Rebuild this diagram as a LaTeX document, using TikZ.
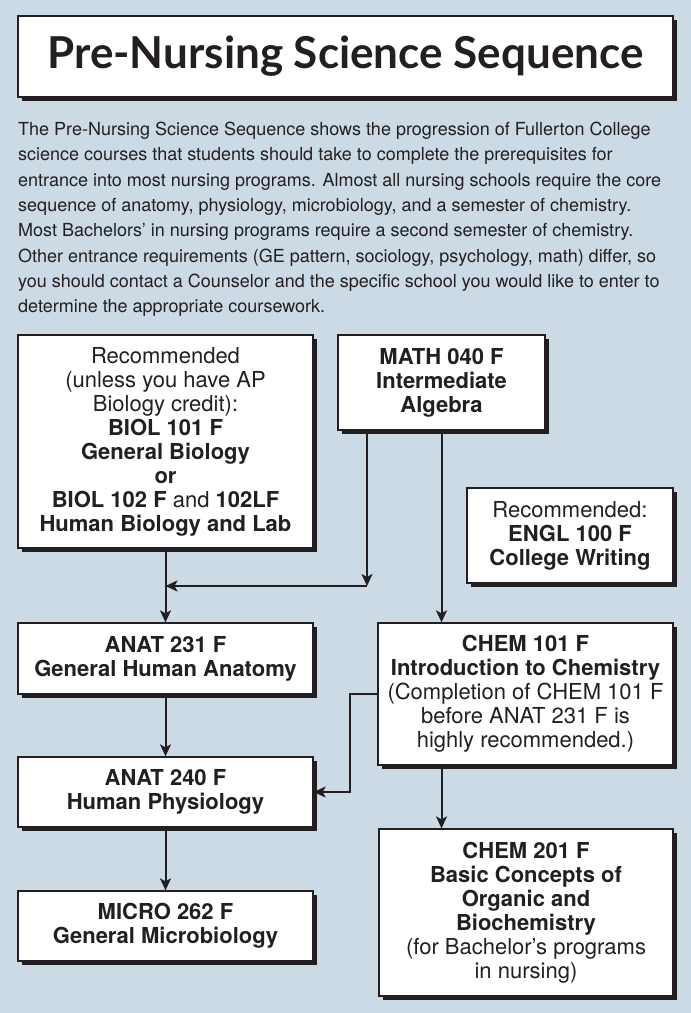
\documentclass[tikz,border=0pt]{standalone}
\usepackage{fontspec}
\setmainfont{TeX Gyre Heros}
\newfontfamily\titlefont{Lato}
\usetikzlibrary{shadows,arrows.meta}

\definecolor{panelblue}{RGB}{204,218,229}
\definecolor{ink}{RGB}{35,31,32}

\begin{document}
\begin{tikzpicture}[x=1pt,y=-1pt,
  course/.style={
      draw=ink,
      line width=1.3pt,
      fill=white,
      text=ink,
      align=center,
      inner sep=0pt,
      drop shadow={shadow xshift=3.5pt,shadow yshift=-3.5pt,fill=ink,opacity=1},
      font=\fontsize{22}{24}\selectfont},
  bold course/.style={course,font=\fontsize{22}{24}\selectfont\bfseries},
  link/.style={draw=ink,line width=2pt,-{Stealth[length=12pt,width=11pt,inset=3pt]}}
]
% panel behind everything
\fill[panelblue] (0,0) rectangle (691,1013);

% heading
\node[course,
      minimum width=655pt,
      minimum height=81pt,
      font=\titlefont\bfseries\fontsize{44}{50}\selectfont
] (title) at (345.5,56.5) {Pre-Nursing Science Sequence};

\node[anchor=north west,inner sep=0pt,align=left,text=ink,
      font=\fontsize{18}{25.3}\selectfont] (intro) at (18,122) {%
The Pre-Nursing Science Sequence shows the progression of Fullerton College\\
science courses that students should take to complete the prerequisites for\\
entrance into most nursing programs. Almost all nursing schools require the core\\
sequence of anatomy, physiology, microbiology, and a semester of chemistry.\\
Most Bachelors’ in nursing programs require a second semester of chemistry.\\
Other entrance requirements (GE pattern, sociology, psychology, math) differ, so\\
you should contact a Counselor and the specific school you would like to enter to\\
determine the appropriate coursework.};

% left column
\node[course,minimum width=295pt,minimum height=213pt] (bio) at (165.5,441.5) {%
Recommended\\(unless you have AP\\Biology credit):\\\textbf{BIOL 101 F}\\
\textbf{General Biology}\\\textbf{or}\\\textbf{BIOL 102 F} and \textbf{102LF}\\
\textbf{Human Biology and Lab}};
\node[bold course,minimum width=295pt,minimum height=71pt]
  (anat) at (165.5,658.5) {ANAT 231 F\\General Human Anatomy};
\node[bold course,minimum width=295pt,minimum height=70pt]
  (phys) at (165.5,792) {ANAT 240 F\\Human Physiology};
\node[bold course,minimum width=295pt,minimum height=70pt]
  (micro) at (165.5,926) {MICRO 262 F\\General Microbiology};

% right column
\node[bold course,minimum width=207pt,minimum height=95pt]
  (math) at (441.5,382.5) {MATH 040 F\\Intermediate\\Algebra};
\node[course,minimum width=206pt,minimum height=95pt] (engl) at (570,535.5) {%
Recommended:\\\textbf{ENGL 100 F}\\\textbf{College Writing}};
\node[course,minimum width=295pt,minimum height=142pt] (chem) at (525.5,694) {%
\textbf{CHEM 101 F}\\\textbf{Introduction to Chemistry}\\(Completion of CHEM 101 F\\
before ANAT 231 F is\\highly recommended.)};
\node[course,minimum width=294pt,minimum height=167pt] (orgchem) at (526,912.5) {%
\textbf{CHEM 201 F}\\\textbf{Basic Concepts of}\\\textbf{Organic and}\\
\textbf{Biochemistry}\\(for Bachelor’s programs\\in nursing)};

% connectors
\coordinate (merge) at (367,586);
\draw[link] (math.south -| merge) -- (merge);
\draw[link] (merge) -- (merge -| bio.south);
\draw[link] (bio.south) -- (anat.north);
\draw[link] (math.south) -- (math.south |- chem.north);
\draw[link] (anat.south) -- (phys.north);
\draw[link] (chem.west) -- ++(-27,0) |- (phys.east);
\draw[link] (phys.south) -- (micro.north);
\draw[link] (chem.south -| math.south) -- (orgchem.north -| math.south);
\end{tikzpicture}
\end{document}
